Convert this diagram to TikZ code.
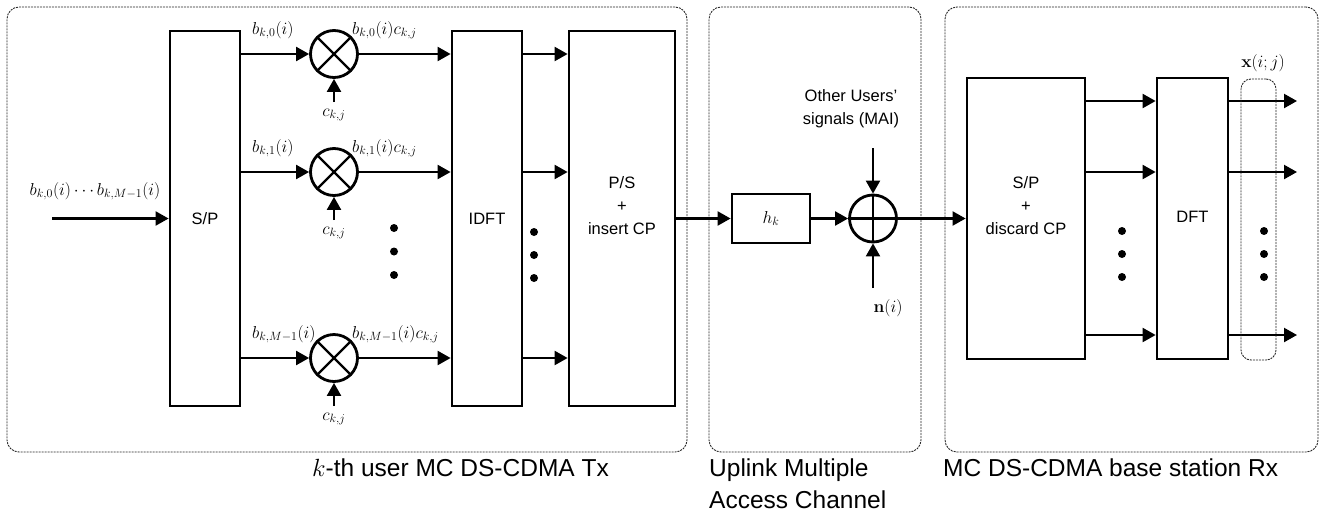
\documentclass[tikz,border=0pt]{standalone}
\usepackage[no-math]{fontspec}
\setmainfont{Liberation Sans}
\usetikzlibrary{arrows.meta}
\begin{document}
\begin{tikzpicture}[x=1pt,y=-1pt,
  blk/.style={draw,line width=2.8pt,rectangle,inner sep=0pt},
  arr/.style={line width=2.2pt,-{Triangle[length=13pt,width=14pt]}},
  ln/.style={line width=2.2pt},
  grp/.style={draw=black!85,line width=0.9pt,dash pattern=on 2pt off 1pt,rounded corners=12pt,inner sep=0pt},
  lab/.style={font=\fontsize{16.5}{23}\selectfont,align=center,inner sep=0pt},
  mlab/.style={font=\fontsize{17.5}{20}\selectfont,inner sep=0pt},
  big/.style={font=\fontsize{24.5}{32}\selectfont,inner sep=0pt},
  dot/.style={circle,fill,inner sep=0pt,minimum size=8pt},
  op/.style={circle,draw,line width=2.8pt,minimum size=47pt,inner sep=0pt}
]
\useasboundingbox (0,0) rectangle (1322,517);
% groups
\node[grp,minimum width=680pt,minimum height=445pt] (gtx) at (347,229.5) {};
\node[grp,minimum width=212pt,minimum height=445pt] (gch) at (815,229.5) {};
\node[grp,minimum width=373pt,minimum height=445pt] (grx) at (1131.5,229.5) {};
% Tx blocks
\node[blk,minimum width=70pt,minimum height=375pt] (sp) at (205,218.5) {};
\node[lab] (sptxt) at (205,218.5) {S/P};
\node[blk,minimum width=70pt,minimum height=375pt] (idft) at (487,218.5) {};
\node[lab] (idfttxt) at (487,218.5) {IDFT};
\node[blk,minimum width=106pt,minimum height=375pt] (ps) at (622,218.5) {};
\node[lab] (pstxt) at (622,206) {P/S\\+\\insert CP};
% input
\coordinate (in) at (52,218.5);
\node[mlab,anchor=base] (inl) at (95,195) {$b_{k,0}(i)\cdots b_{k,M-1}(i)$};
\draw[arr] (in) -- (sp.west|-in);
% multipliers
\foreach \n/\y/\s in {0/54/0,1/172/1,2/358/M-1}{
  \node[op] (m\n) at (334,\y) {};
  \draw[ln] (m\n.north west) -- (m\n.south east) (m\n.north east) -- (m\n.south west);
  \draw[arr] (sp.east|-m\n) -- (m\n);
  \draw[arr] (m\n) -- (idft.west|-m\n);
  \draw[arr] (idft.east|-m\n) -- (ps.west|-m\n);
  \coordinate (c\n) at (334,\y+48);
  \draw[arr] (c\n) -- (m\n.south);
  \node[mlab] (cl\n) at (334,\y+61) {$c_{k,j}$};
  \node[mlab,anchor=base west] (bi\n) at (252,\y-20) {$b_{k,\s}(i)$};
  \node[mlab,anchor=base west] (bo\n) at (352,\y-20) {$b_{k,\s}(i)c_{k,j}$};
}
\node[dot] (da1) at (394,228) {};
\node[dot] (da2) at (394,251.5) {};
\node[dot] (da3) at (394,275) {};
\node[dot] (db1) at (534,232) {};
\node[dot] (db2) at (534,255) {};
\node[dot] (db3) at (534,278) {};
% channel
\node[blk,minimum width=78pt,minimum height=49pt,font=\fontsize{17}{20}\selectfont] (hk) at (771,218.5) {$h_k$};
\draw[arr] (ps) -- (hk);
\node[op] (add) at (873,218.5) {};
\draw[ln] (add.north) -- (add.south) (add.west) -- (add.east);
\draw[arr] (hk) -- (add);
\node[lab] (mai) at (851,108.5) {Other Users'\\signals (MAI)};
\coordinate (maic) at (873,148);
\draw[arr] (maic) -- (add.north);
\coordinate (nc) at (873,288);
\draw[arr] (nc) -- (add.south);
\node[mlab] (nl) at (888,308) {$\mathbf{n}(i)$};
% Rx
\node[blk,minimum width=118pt,minimum height=281pt] (sp2) at (1026,218.5) {};
\node[lab] (sp2txt) at (1026,206) {S/P\\+\\discard CP};
\draw[arr] (add) -- (sp2);
\node[blk,minimum width=71pt,minimum height=281pt] (dft) at (1192.5,218.5) {};
\node[lab] (dfttxt) at (1192.5,217) {DFT};
\foreach \n/\y in {0/101,1/172,2/335}{
  \coordinate (o\n) at (1297,\y);
  \draw[arr] (sp2.east|-o\n) -- (dft.west|-o\n);
  \draw[arr] (dft.east|-o\n) -- (o\n);
}
\node[dot] (dc1) at (1122,231) {};
\node[dot] (dc2) at (1122,254) {};
\node[dot] (dc3) at (1122,277) {};
\node[dot] (dd1) at (1264,231) {};
\node[dot] (dd2) at (1264,254) {};
\node[dot] (dd3) at (1264,277) {};
\node[grp,rounded corners=10pt,minimum width=35pt,minimum height=281pt] (xg) at (1258.5,219.5) {};
\node[mlab] (xl) at (1263,63) {$\mathbf{x}(i;j)$};
% captions
\node[big,anchor=base west] (ctx) at (312,476) {$k$-th user MC DS-CDMA Tx};
\node[big,anchor=base west] (cch1) at (709,476) {Uplink Multiple};
\node[big,anchor=base west] (cch2) at (709,508) {Access Channel};
\node[big,anchor=base west] (crx) at (943,476) {MC DS-CDMA base station Rx};
\end{tikzpicture}
\end{document}
